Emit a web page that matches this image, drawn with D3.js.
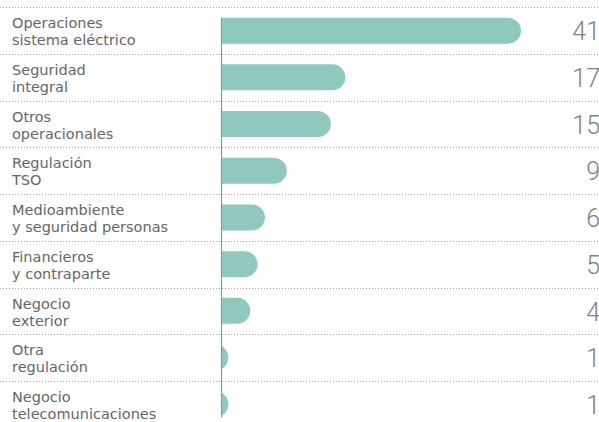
<!DOCTYPE html>
<html>
<head>
<meta charset="utf-8">
<script src="https://cdn.jsdelivr.net/npm/d3@7"></script>
<style>
  body { margin: 0; background: #fff; }
  svg { display: block; }
  .label { font-family: "DejaVu Sans", sans-serif; font-size: 14.5px; fill: #666; }
  .value { font-family: Roboto, sans-serif; font-size: 25px; fill: #808080; font-weight: 300; }
</style>
</head>
<body>
<svg id="chart"></svg>
<script>
var categories = [
  "Operaciones|sistema eléctrico",
  "Seguridad|integral",
  "Otros|operacionales",
  "Regulación|TSO",
  "Medioambiente|y seguridad personas",
  "Financieros|y contraparte",
  "Negocio|exterior",
  "Otra|regulación",
  "Negocio|telecomunicaciones"
];
var values = [41, 17, 15, 9, 6, 5, 4, 1, 1];

var width = 599, height = 422;
var barH = 26, r = 13;

var svg = d3.select("#chart").attr("width", width).attr("height", height);

var y = d3.scaleBand().domain(categories).range([7.3, 7.3 + 9 * 46.7]).padding(0);
var x = d3.scaleLinear().domain([0, 41]).range([221, 521]);

// dotted separators
var seps = d3.range(categories.length + 1).map(function(i) { return 7.3 + i * y.step(); });
svg.selectAll("line.sep").data(seps).enter().append("line")
  .attr("class", "sep")
  .attr("x1", 0).attr("x2", width)
  .attr("y1", function(d) { return Math.round(d) + 0.5; })
  .attr("y2", function(d) { return Math.round(d) + 0.5; })
  .attr("stroke", "#a8a8a8").attr("stroke-width", 1).attr("stroke-dasharray", "1,2");

// clip so short bars show as a segment of the rounded end
svg.append("defs").append("clipPath").attr("id", "barclip")
  .append("rect").attr("x", x(0)).attr("y", 0).attr("width", width).attr("height", height);

function barPath(d, i) {
  var x0 = x(0), x1 = x(values[i]);
  var t = y(d) + (y.bandwidth() - barH) / 2, b = t + barH;
  var cx = x1 - r;
  if (cx < x0) {
    return "M" + cx + "," + t + "A" + r + "," + r + " 0 0 1 " + cx + "," + b + "A" + r + "," + r + " 0 0 1 " + cx + "," + t + "Z";
  }
  return "M" + x0 + "," + t + "H" + cx + "A" + r + "," + r + " 0 0 1 " + cx + "," + b + "H" + x0 + "Z";
}

svg.append("g").attr("clip-path", "url(#barclip)")
  .selectAll("path").data(categories).enter().append("path")
  .attr("d", barPath)
  .attr("fill", "#8fc9bd");

// axis line
svg.append("line")
  .attr("x1", x(0) + 0.5).attr("x2", x(0) + 0.5)
  .attr("y1", y(categories[0]) + (y.bandwidth() - barH) / 2)
  .attr("y2", y(categories[8]) + (y.bandwidth() + barH) / 2)
  .attr("stroke", "#5cae9f").attr("stroke-width", 1.2);

// labels
var lab = svg.selectAll("text.label").data(categories).enter().append("text")
  .attr("class", "label")
  .attr("x", 12);
lab.append("tspan").attr("x", 12).attr("y", function(d) { return y(d) + 21; })
  .text(function(d) { return d.split("|")[0]; });
lab.append("tspan").attr("x", 12).attr("y", function(d) { return y(d) + 38; })
  .text(function(d) { return d.split("|")[1]; });

// values
svg.selectAll("text.value").data(categories).enter().append("text")
  .attr("class", "value")
  .attr("x", 600)
  .attr("y", function(d) { return y(d) + 33; })
  .attr("text-anchor", "end")
  .text(function(d, i) { return values[i]; });
</script>
</body>
</html>
